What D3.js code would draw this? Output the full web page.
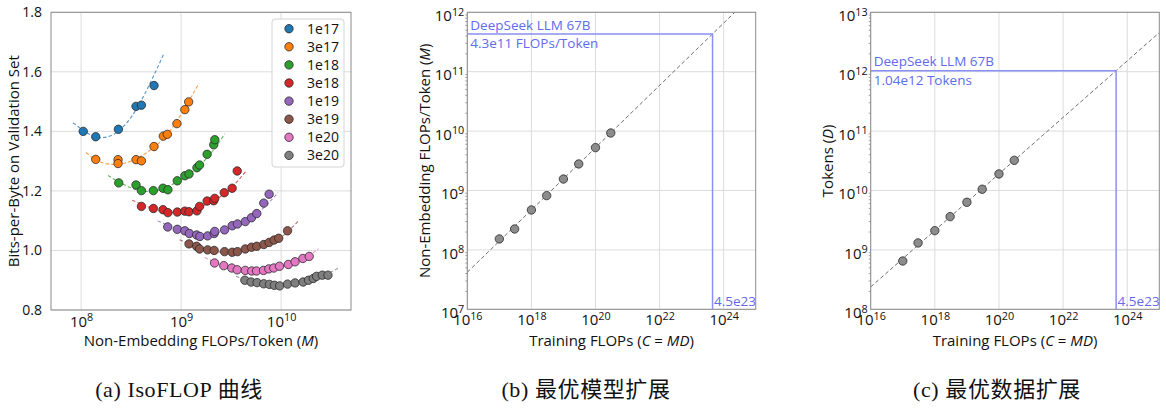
<!DOCTYPE html>
<html lang="zh">
<head>
<meta charset="utf-8"/>
<title>IsoFLOP / optimal scaling</title>
<script src="https://cdn.jsdelivr.net/npm/d3@7"></script>
<style>
  body { margin: 0; background: #fff; }
  svg { display: block; }
</style>
</head>
<body>
<svg id="fig" width="1166" height="412"></svg>
<script>
// ---- data ----
const isoLabels = ["1e17", "3e17", "1e18", "3e18", "1e19", "3e19", "1e20", "3e20"];
const isoColors = ["#1f77b4", "#ff7f0e", "#2ca02c", "#d62728", "#9467bd", "#8c564b", "#e377c2", "#7f7f7f"];

// [non-embedding FLOPs/token, bits-per-byte]
const pts1e17 = [[1.05e8,1.400],[1.40e8,1.382],[2.36e8,1.407],[3.54e8,1.484],[4.01e8,1.488],[5.36e8,1.554]];
const pts3e17 = [[1.40e8,1.306],[2.34e8,1.305],[2.34e8,1.292],[3.54e8,1.305],[4.01e8,1.301],[5.36e8,1.349],
                 [6.64e8,1.384],[7.28e8,1.390],[9.08e8,1.426],[1.09e9,1.473],[1.19e9,1.499]];
const pts1e18 = [[2.38e8,1.227],[3.54e8,1.220],[4.01e8,1.201],[5.28e8,1.201],[6.59e8,1.209],[7.38e8,1.204],
                 [9.16e8,1.234],[1.09e9,1.251],[1.20e9,1.257],[1.44e9,1.278],[1.53e9,1.287],[1.82e9,1.323],
                 [2.12e9,1.355],[2.17e9,1.372]];
const pts3e18 = [[4.01e8,1.148],[5.28e8,1.141],[6.59e8,1.137],[7.38e8,1.127],[9.16e8,1.129],[1.09e9,1.132],
                 [1.20e9,1.130],[1.44e9,1.133],[1.53e9,1.148],[1.82e9,1.166],[2.12e9,1.167],[2.17e9,1.175],
                 [2.70e9,1.194],[3.24e9,1.209],[3.64e9,1.267]];
const pts1e19 = [[7.35e8,1.079],[9.16e8,1.071],[1.09e9,1.066],[1.21e9,1.057],[1.43e9,1.052],[1.54e9,1.047],
                 [1.84e9,1.049],[2.14e9,1.057],[2.17e9,1.064],[2.72e9,1.069],[3.24e9,1.083],[3.66e9,1.089],
                 [4.38e9,1.097],[5.06e9,1.110],[5.71e9,1.124],[6.71e9,1.159],[7.59e9,1.189]];
const pts3e19 = [[1.20e9,1.022],[1.43e9,1.014],[1.53e9,1.005],[1.84e9,1.002],[2.14e9,1.000],[2.72e9,0.996],
                 [3.24e9,0.994],[3.66e9,0.996],[4.38e9,1.005],[5.06e9,1.011],[5.71e9,1.014],[6.71e9,1.020],
                 [7.59e9,1.027],[8.51e9,1.035],[9.46e9,1.041],[1.16e10,1.066]];
const pts1e20 = [[2.16e9,0.958],[2.67e9,0.949],[3.21e9,0.941],[3.64e9,0.935],[4.38e9,0.933],[5.09e9,0.931],
                 [5.68e9,0.931],[6.67e9,0.933],[7.53e9,0.938],[8.45e9,0.941],[9.64e9,0.947],[1.18e10,0.953],
                 [1.38e10,0.962],[1.65e10,0.973],[1.91e10,0.980]];
const pts3e20 = [[4.34e9,0.900],[5.01e9,0.894],[5.75e9,0.892],[6.70e9,0.888],[7.64e9,0.886],[8.57e9,0.883],
                 [9.68e9,0.881],[1.16e10,0.887],[1.38e10,0.891],[1.66e10,0.894],[1.88e10,0.900],[2.10e10,0.906],
                 [2.26e10,0.913],[2.58e10,0.917],[2.94e10,0.917]];

// dashed fitted curves, sampled along the drawn line
const fit1e17 = [[8.3e7,1.429],[1.55e8,1.379],[2.8e8,1.425],[4.5e8,1.537],[6.8e8,1.664]];
const fit3e17 = [[1.12e8,1.329],[1.66e8,1.294],[2.84e8,1.295],[4.85e8,1.336],[8.28e8,1.415],[1.51e9,1.562]];
const fit1e18 = [[1.86e8,1.252],[2.84e8,1.217],[4.9e8,1.198],[8.95e8,1.229],[1.65e9,1.296],[2.74e9,1.392]];
const fit3e18 = [[3.24e8,1.169],[5.0e8,1.143],[9.5e8,1.128],[2.0e9,1.163],[3.16e9,1.210],[4.47e9,1.267]];
const fit1e19 = [[5.82e8,1.099],[1.0e9,1.066],[1.74e9,1.048],[4.0e9,1.093],[6.3e9,1.135],[9.33e9,1.194]];
const fit3e19 = [[9.66e8,1.036],[1.58e9,1.008],[3.0e9,0.995],[6.3e9,1.017],[1.0e10,1.045],[1.48e10,1.098]];
const fit1e20 = [[1.72e9,0.976],[2.8e9,0.948],[5.5e9,0.930],[1.0e10,0.945],[1.58e10,0.967],[2.37e10,1.006]];
const fit3e20 = [[3.55e9,0.913],[5.6e9,0.893],[1.0e10,0.883],[1.78e10,0.895],[2.63e10,0.915],[3.74e10,0.941]];

const isoPoints = [pts1e17, pts3e17, pts1e18, pts3e18, pts1e19, pts3e19, pts1e20, pts3e20];
const isoFits = [fit1e17, fit3e17, fit1e18, fit3e18, fit1e19, fit3e19, fit1e20, fit3e20];

const xTicksA = [1e8, 1e9, 1e10];
const yTicksA = [0.8, 1.0, 1.2, 1.4, 1.6, 1.8];

// optimal model / data scaling
const budgets = [1e17, 3e17, 1e18, 3e18, 1e19, 3e19, 1e20, 3e20];
const optM = [1.53e8, 2.25e8, 4.7e8, 8.2e8, 1.56e9, 2.8e9, 5.27e9, 9.3e9];
const optD = [6.5e8, 1.31e9, 2.11e9, 3.63e9, 6.33e9, 1.05e10, 1.9e10, 3.22e10];
const fitLineM = [[1e16, 4.2e7], [1e25, 2.2e12]];
const fitLineD = [[1e16, 2.38e8], [1e25, 4.55e12]];
const targetC = 4.5e23, targetM = 4.3e11, targetD = 1.04e12;
const xTicksBC = [1e16, 1e18, 1e20, 1e22, 1e24];
const yTicksB = [1e7, 1e8, 1e9, 1e10, 1e11, 1e12];
const yTicksC = [1e8, 1e9, 1e10, 1e11, 1e12, 1e13];

// ---- drawing ----
const FONT = '"Open Sans", "Noto Sans", sans-serif';
const gridColor = "#dcdcdc", spineColor = "#8a8a8a";
const annLine = "#8a90f3", annText = "#626aee";
const svg = d3.select("#fig").attr("font-family", FONT);
const defs = svg.append("defs");

function supLabels(sel) {
  sel.each(function (d) {
    const t = d3.select(this);
    t.text(null);
    t.append("tspan").text("10");
    t.append("tspan").attr("dy", "-0.5em").attr("font-size", "0.72em").text(Math.round(Math.log10(d)));
  });
}

function grid(g, x, y, xt, yt, box) {
  g.append("g").selectAll("line").data(xt).join("line")
    .attr("x1", d => x(d)).attr("x2", d => x(d)).attr("y1", box.t).attr("y2", box.b)
    .attr("stroke", gridColor);
  g.append("g").selectAll("line").data(yt).join("line")
    .attr("y1", d => y(d)).attr("y2", d => y(d)).attr("x1", box.l).attr("x2", box.r)
    .attr("stroke", gridColor);
}

function clip(id, box) {
  defs.append("clipPath").attr("id", id).append("rect")
    .attr("x", box.l).attr("y", box.t).attr("width", box.r - box.l).attr("height", box.b - box.t);
}

function spines(g, box) {
  g.append("rect").attr("x", box.l).attr("y", box.t)
    .attr("width", box.r - box.l).attr("height", box.b - box.t)
    .attr("fill", "none").attr("stroke", spineColor).attr("stroke-width", 1);
}

function minorTicksY(g, y, box) {
  const minors = y.ticks().filter(v => Math.abs(Math.log10(v) - Math.round(Math.log10(v))) > 1e-6);
  g.append("g").selectAll("line").data(minors).join("line")
    .attr("x1", box.l - 2).attr("x2", box.l).attr("y1", d => y(d)).attr("y2", d => y(d))
    .attr("stroke", spineColor).attr("stroke-width", 0.8);
}

function styleAxis(ax, size) {
  ax.select(".domain").remove();
  ax.attr("font-family", FONT).attr("font-size", size);
  ax.selectAll("text").attr("fill", "#111");
}

// ---------- (a) IsoFLOP curves ----------
const A = { l: 51, r: 351, t: 12.3, b: 310 };
const xA = d3.scaleLog().domain([5e7, 5e10]).range([A.l, A.r]);
const yA = d3.scaleLinear().domain([0.8, 1.8]).range([A.b, A.t]);
const gA = svg.append("g");
clip("clipA", A);
grid(gA, xA, yA, xTicksA, yTicksA, A);

const lineA = d3.line().x(d => xA(d[0])).y(d => yA(d[1])).curve(d3.curveNatural);
const plotA = gA.append("g").attr("clip-path", "url(#clipA)");
isoFits.forEach((f, i) => {
  plotA.append("path").attr("d", lineA(f)).attr("fill", "none")
    .attr("stroke", isoColors[i]).attr("stroke-width", 1.1)
    .attr("stroke-dasharray", "3.5,2.2").attr("stroke-opacity", 0.75);
});
isoPoints.forEach((pts, i) => {
  plotA.append("g").selectAll("circle").data(pts).join("circle")
    .attr("cx", d => xA(d[0])).attr("cy", d => yA(d[1])).attr("r", 4.2)
    .attr("fill", isoColors[i]).attr("stroke", "#2a2a2a").attr("stroke-width", 0.8);
});
spines(gA, A);

const axAy = gA.append("g").attr("transform", `translate(${A.l},0)`)
  .call(d3.axisLeft(yA).tickValues(yTicksA).tickFormat(d3.format(".1f")).tickSize(0).tickPadding(9));
styleAxis(axAy, 14);
const axAx = gA.append("g").attr("transform", `translate(0,${A.b})`)
  .call(d3.axisBottom(xA).tickValues(xTicksA).tickSize(0).tickPadding(6));
styleAxis(axAx, 15);
supLabels(axAx.selectAll(".tick text"));

gA.append("text").attr("x", (A.l + A.r) / 2).attr("y", 346).attr("text-anchor", "middle")
  .attr("font-size", 15).attr("fill", "#111")
  .call(t => { t.append("tspan").text("Non-Embedding FLOPs/Token ("); t.append("tspan").attr("font-style", "italic").text("M"); t.append("tspan").text(")"); });
gA.append("text").attr("transform", `translate(${A.l - 37},${(A.t + A.b) / 2}) rotate(-90)`)
  .attr("text-anchor", "middle").attr("font-size", 15).attr("fill", "#111")
  .attr("dy", "0.35em")
  .text("Bits-per-Byte on Validation Set");

// legend
const lg = gA.append("g");
lg.append("rect").attr("x", 272).attr("y", 19).attr("width", 72).attr("height", 148).attr("rx", 3)
  .attr("fill", "#fff").attr("fill-opacity", 0.85).attr("stroke", "#d4d4d4");
isoLabels.forEach((lab, i) => {
  const yy = 28.7 + i * 18.1;
  lg.append("circle").attr("cx", 289).attr("cy", yy).attr("r", 4.2)
    .attr("fill", isoColors[i]).attr("stroke", "#2a2a2a").attr("stroke-width", 0.8);
  lg.append("text").attr("x", 339).attr("y", yy).attr("dy", "0.35em").attr("text-anchor", "end")
    .attr("font-size", 14).attr("fill", "#111").text(lab);
});

// ---------- (b), (c) optimal scaling ----------
function optPanel(id, box, yDomain, yTicks, ys, fitLine, target, yLabelParts, note) {
  const x = d3.scaleLog().domain([1e16, 1e25]).range([box.l, box.r]);
  const y = d3.scaleLog().domain(yDomain).range([box.b, box.t]);
  const g = svg.append("g");
  clip(id, box);
  grid(g, x, y, xTicksBC, yTicks, box);
  const plot = g.append("g").attr("clip-path", `url(#${id})`);

  plot.append("path").attr("d", d3.line().x(d => x(d[0])).y(d => y(d[1]))(fitLine))
    .attr("fill", "none").attr("stroke", "#6e6e6e").attr("stroke-width", 1)
    .attr("stroke-dasharray", "4,2.5");

  const tx = x(targetC), ty = y(target);
  plot.append("path").attr("d", `M${box.l},${ty}H${tx}V${box.b}`)
    .attr("fill", "none").attr("stroke", annLine).attr("stroke-width", 1.5);

  plot.append("g").selectAll("circle").data(budgets.map((c, i) => [c, ys[i]])).join("circle")
    .attr("cx", d => x(d[0])).attr("cy", d => y(d[1])).attr("r", 4.2)
    .attr("fill", "#8c8c8c").attr("stroke", "#2a2a2a").attr("stroke-width", 0.8);

  g.append("text").attr("x", box.l + 3).attr("y", ty - 9).attr("dy", "0.35em")
    .attr("font-size", 13.5).attr("fill", annText).text("DeepSeek LLM 67B");
  g.append("text").attr("x", box.l + 3).attr("y", ty + 9.5).attr("dy", "0.35em")
    .attr("font-size", 13.5).attr("fill", annText).text(note);
  g.append("text").attr("x", tx + 1.5).attr("y", box.b - 7.8).attr("dy", "0.35em")
    .attr("font-size", 13.5).attr("fill", annText).text("4.5e23");

  spines(g, box);
  minorTicksY(g, y, box);

  const ay = g.append("g").attr("transform", `translate(${box.l},0)`)
    .call(d3.axisLeft(y).tickValues(yTicks).tickSize(0).tickPadding(3));
  styleAxis(ay, 15);
  ay.selectAll(".tick text").attr("dy", "0.55em");
  supLabels(ay.selectAll(".tick text"));

  const ax = g.append("g").attr("transform", `translate(0,${box.b})`)
    .call(d3.axisBottom(x).tickValues(xTicksBC).tickSize(0).tickPadding(5));
  styleAxis(ax, 15);
  supLabels(ax.selectAll(".tick text"));

  g.append("text").attr("x", (box.l + box.r) / 2).attr("y", 346).attr("text-anchor", "middle")
    .attr("font-size", 15).attr("fill", "#111")
    .call(t => {
      t.append("tspan").text("Training FLOPs (");
      t.append("tspan").attr("font-style", "italic").text("C");
      t.append("tspan").text(" = ");
      t.append("tspan").attr("font-style", "italic").text("MD");
      t.append("tspan").text(")");
    });
  g.append("text").attr("transform", `translate(${box.l - 43},${(box.t + box.b) / 2}) rotate(-90)`)
    .attr("text-anchor", "middle").attr("font-size", 15).attr("fill", "#111")
    .attr("dy", "0.35em")
    .call(t => {
      t.append("tspan").text(yLabelParts[0]);
      t.append("tspan").attr("font-style", "italic").text(yLabelParts[1]);
      t.append("tspan").text(")");
    });
}

optPanel("clipB", { l: 467.3, r: 755.7, t: 12.3, b: 309.3 }, [1e7, 1e12], yTicksB, optM, fitLineM,
  targetM, ["Non-Embedding FLOPs/Token (", "M"], "4.3e11 FLOPs/Token");
optPanel("clipC", { l: 870.7, r: 1159.3, t: 12.3, b: 309.3 }, [1e8, 1e13], yTicksC, optD, fitLineD,
  targetD, ["Tokens (", "D"], "1.04e12 Tokens");

// ---------- captions ----------
const captions = [["(a) IsoFLOP 曲线", 179], ["(b) 最优模型扩展", 586], ["(c) 最优数据扩展", 997]];
svg.append("g").selectAll("text").data(captions).join("text")
  .attr("x", d => d[1]).attr("y", 397).attr("text-anchor", "middle")
  .attr("font-family", '"Liberation Serif", "DejaVu Serif", "Noto Sans CJK SC", serif')
  .attr("font-size", 22).attr("letter-spacing", 0.6).attr("fill", "#111")
  .text(d => d[0]);
</script>
</body>
</html>
